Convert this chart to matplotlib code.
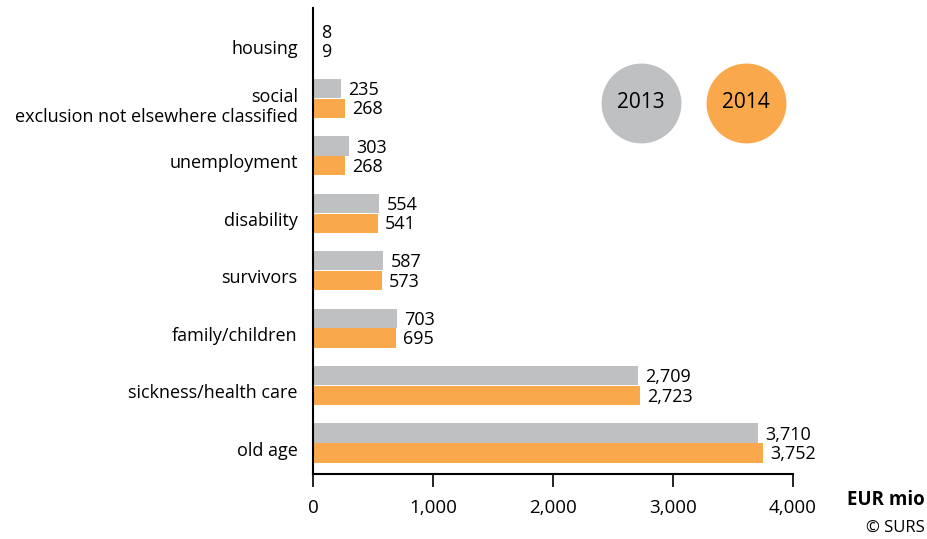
import matplotlib.pyplot as plt
import matplotlib.transforms as mtransforms
import numpy as np

plt.rcParams['font.family'] = ['Open Sans', 'DejaVu Sans']

categories = ["old age", "sickness/health care", "family/children", "survivors",
              "disability", "unemployment",
              "social\nexclusion not elsewhere classified", "housing"]
v2013 = [3710, 2709, 703, 587, 554, 303, 235, 8]
v2014 = [3752, 2723, 695, 573, 541, 268, 268, 9]
xticks = [0, 1000, 2000, 3000, 4000]

c2013 = "#bfc0c2"
c2014 = "#f9a94b"

fig = plt.figure(figsize=(9.27, 5.39), dpi=100)
ax = fig.add_axes([313/927, 1-474/539, 480/927, 466/539])

y = np.arange(len(categories))
h = 0.335
ax.barh(y + h/2 + 0.005, v2013, height=h, color=c2013)
ax.barh(y - h/2 - 0.005, v2014, height=h, color=c2014)

for yi, a, b in zip(y, v2013, v2014):
    ax.annotate(f"{a:,}", (a, yi + h/2), xytext=(5, -1), textcoords="offset points",
                va="center", ha="left", fontsize=13)
    ax.annotate(f"{b:,}", (b, yi - h/2), xytext=(5, -1), textcoords="offset points",
                va="center", ha="left", fontsize=13)

ax.set_ylim(-0.54, 7.575)
ax.set_xlim(0, 4000)
ax.set_yticks(y)
ax.set_yticklabels(categories, fontsize=13, linespacing=1.15)
ax.set_xticks(xticks)
ax.set_xticklabels([f"{t:,}" for t in xticks], fontsize=13.5)
ax.tick_params(axis="y", length=0, pad=11)
ax.tick_params(axis="x", length=9, width=1.2, pad=9, direction="out")
shift = mtransforms.ScaledTranslation(0, -4/72, fig.dpi_scale_trans)
for lbl in ax.get_yticklabels():
    lbl.set_transform(lbl.get_transform() + shift)
for s in ["top", "right"]:
    ax.spines[s].set_visible(False)
ax.spines["left"].set_linewidth(1.5)
ax.spines["bottom"].set_linewidth(1.5)

# legend circles
for cx, col, lab in [(641, c2013, "2013"), (746, c2014, "2014")]:
    fx, fy = cx/927, 1-103/539
    fig.add_artist(plt.Line2D([fx], [fy], marker="o", markersize=57.5,
                              color=col, markeredgewidth=0, transform=fig.transFigure))
    fig.text(fx, fy, lab, ha="center", va="center", fontsize=15)

fig.text(925/927, 1-500/539, "EUR mio", ha="right", va="center", fontsize=13.5, fontweight="bold")
fig.text(925/927, 1-528/539, "© SURS", ha="right", va="center", fontsize=12)

fig.savefig("out.png", dpi=100)
